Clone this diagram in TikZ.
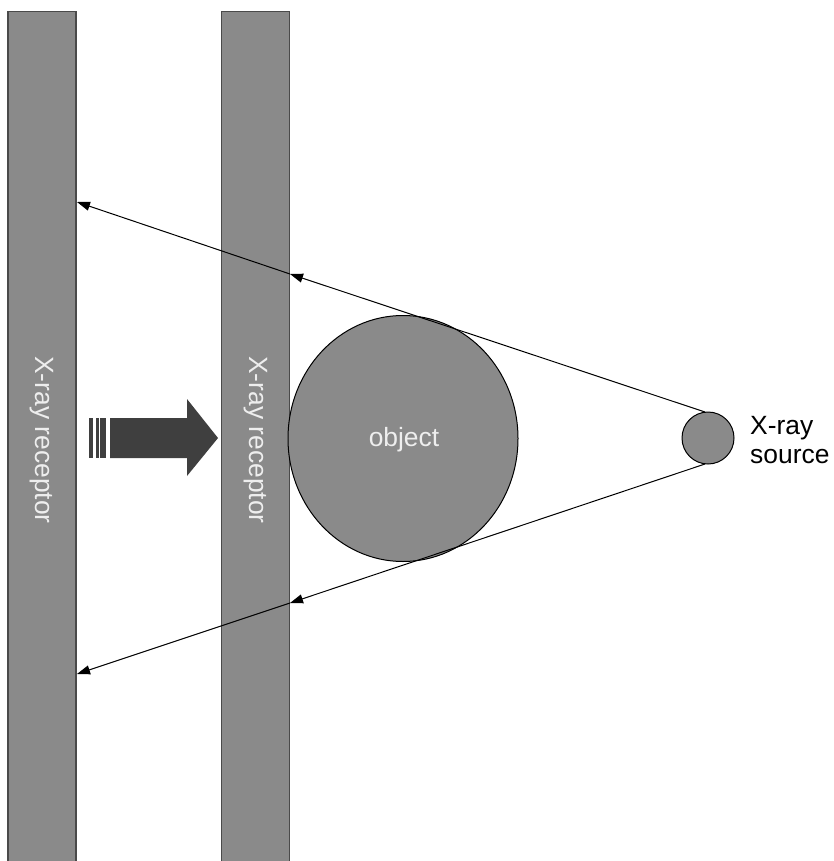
\documentclass[tikz,border=0pt]{standalone}
\usepackage{fontspec}
\setmainfont{Liberation Sans}
\usetikzlibrary{arrows.meta,shapes.geometric}
\definecolor{bargray}{HTML}{8A8A8A}
\definecolor{barline}{HTML}{4A4A4A}
\definecolor{arrowdark}{HTML}{3F3F3F}
\definecolor{labelwhite}{HTML}{EEEEEE}
\tikzset{
  bar/.style={draw=barline, line width=1.2bp, fill=bargray, minimum width=68bp, minimum height=870bp, inner sep=0pt, anchor=north},
  bartext/.style={text=labelwhite, font=\fontsize{26.5}{30}\selectfont, rotate=-90},
  ray/.style={line width=1bp, black, -{Triangle[length=13bp,width=9bp]}},
  ball/.style={circle, draw=black, line width=1bp, fill=bargray, inner sep=0pt},
}
\begin{document}
\begin{tikzpicture}[x=1bp,y=-1bp]
\useasboundingbox (0,0) rectangle (834,861);
\clip (0,0) rectangle (834,861);
\fill[white] (0,0) rectangle (834,861);
% receptors
\node[bar] (rec1) at (42,11) {};
\node[bar] (rec2) at (255.5,11) {};
\node[bartext] (rec1t) at (42,440) {X-ray receptor};
\node[bartext] (rec2t) at (255.5,440) {X-ray receptor};
% object
\node[ellipse, draw=black, line width=1bp, fill=bargray, minimum width=230bp, minimum height=246bp, inner sep=0pt] (obj) at (403,438.5) {};
\node[text=labelwhite, font=\fontsize{26.5}{30}\selectfont] (objt) at (404,440) {object};
% source
\node[ball, minimum size=52bp] (src) at (708,438) {};
\node[align=left, anchor=west, font=\fontsize{26.5}{30}\selectfont, inner sep=0pt] (srct) at (750,440) {X-ray\\source};
% ray coordinates
\coordinate (s1) at (705,412);
\coordinate (s2) at (705,464);
\coordinate (m1) at (290,274);
\coordinate (m2) at (290,603);
\coordinate (t1) at (77,202);
\coordinate (t2) at (77,674);
\draw[ray] (s1) -- (m1);
\draw[ray] (m1) -- (t1);
\draw[ray] (s2) -- (m2);
\draw[ray] (m2) -- (t2);
% movement arrow
\fill[arrowdark] (89,418) rectangle (92.5,458);
\fill[arrowdark] (96,418) rectangle (98.5,458);
\fill[arrowdark] (100,418) rectangle (106,458);
\fill[arrowdark] (110,418) -- (187,418) -- (187,399) -- (218,438) -- (187,476) -- (187,458) -- (110,458) -- cycle;
\end{tikzpicture}
\end{document}
